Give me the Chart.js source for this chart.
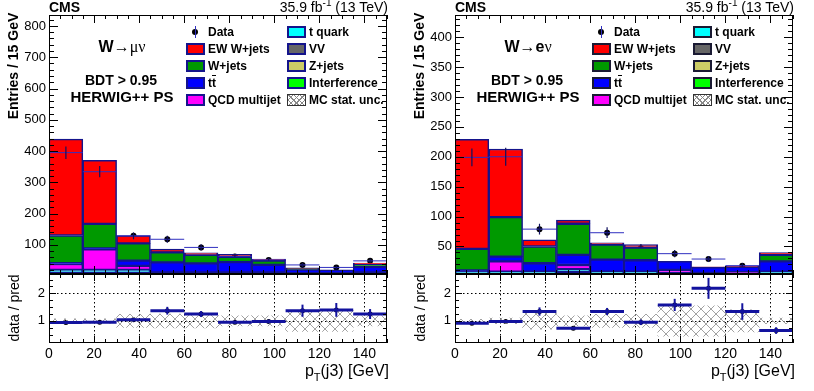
<!DOCTYPE html>
<html>
<head>
<meta charset="utf-8">
<script src="https://cdn.jsdelivr.net/npm/chart.js@4.4.0/dist/chart.umd.min.js"></script>
<style>
html, body { margin: 0; padding: 0; background: #fff; }
#fig { position: relative; width: 814px; height: 391px; overflow: hidden;
       font-family: 'Liberation Sans', Arial, Helvetica, sans-serif; color: #000; }
#fig canvas { position: absolute; }
.t   { position: absolute; white-space: nowrap; line-height: 1; }
.c   { transform: translateX(-50%); }
.r   { transform: translateX(-100%); }
.rot { transform: translate(-50%, -50%) rotate(-90deg); }
.sub { font-size: 11px; position: relative; top: 5px; }
.sup { font-size: 10px; position: relative; top: -6px; }
.sym { font-family: 'Liberation Serif', 'DejaVu Serif', serif; font-weight: normal; }
.box { position: absolute; width: 19px; height: 12px; box-sizing: border-box; border: 2px solid #14148c; }
.lg  { position: absolute; font-weight: bold; font-size: 12px; line-height: 1; white-space: nowrap; }
</style>
</head>
<body>
<div id="fig">
  <canvas id="muTop"   width="400" height="274" style="left:0;top:0"></canvas>
  <canvas id="muRatio" width="400" height="117" style="left:0;top:274px"></canvas>
  <canvas id="elTop"   width="400" height="274" style="left:406px;top:0"></canvas>
  <canvas id="elRatio" width="400" height="117" style="left:406px;top:274px"></canvas>
</div>
<script>
// ── Binning & axis ticks ─────────────────────────────────────
const binCenters   = [7.5, 22.5, 37.5, 52.5, 67.5, 82.5, 97.5, 112.5, 127.5, 142.5];
const binHalfWidth = 7.5;
const xTicks       = [0, 20, 40, 60, 80, 100, 120, 140];
const muYTicks     = [100, 200, 300, 400, 500, 600, 700, 800];
const elYTicks     = [50, 100, 150, 200, 250, 300, 350, 400];
const ratioTicks   = [1, 2];

// ── W→μν channel (entries / 15 GeV) ──────────────────────────
const muVV     = [6, 6, 6, 3, 3, 3, 3, 3, 3, 3];
const muZjets  = [6, 6, 6, 4, 4, 4, 4, 3, 3, 4];
const muTquark = [8, 8, 8, 5, 5, 5, 5, 4, 4, 5];
const muQCD    = [19, 66, 13, 0, 0, 0, 0, 0, 0, 0];
const muTT     = [3, 3, 17, 32, 29, 33, 24, 11, 10, 18];
const muWjets  = [88, 78, 55, 32, 27, 17, 14, 3, 0, 8];
const muEW     = [308, 203, 25, 11, 7, 8, 5, 3, 0, 4];
const muData   = [395, 334, 129, 118, 92, 63, 52, 36, 28, 49];
const muErr    = [20, 18, 11, 11, 10, 8, 7, 6, 5, 7];
const muRatio  = [0.94, 0.95, 1.04, 1.37, 1.25, 0.95, 0.98, 1.37, 1.40, 1.25];
const muRErr   = [0.04, 0.04, 0.06, 0.14, 0.11, 0.06, 0.07, 0.22, 0.25, 0.18];
const muMcUnc  = [0.08, 0.08, 0.24, 0.25, 0.25, 0.18, 0.18, 0.38, 0.38, 0.18];

// ── W→eν channel ─────────────────────────────────────────────
const elVV     = [2, 2, 2, 3, 2, 2, 2, 2, 2, 2];
const elZjets  = [3, 3, 3, 4, 3, 3, 2, 2, 2, 3];
const elTquark = [3, 3, 3, 5, 3, 3, 2, 2, 2, 3];
const elQCD    = [0, 17, 0, 7, 0, 0, 5, 0, 1, 0];
const elTT     = [2, 8, 14, 17, 20, 19, 14, 9, 9, 17];
const elWjets  = [36, 66, 28, 52, 25, 21, 0, 0, 0, 11];
const elEW     = [183, 114, 11, 6, 3, 5, 0, 1, 1, 4];
const elData   = [199, 200, 79, 64, 73, 47, 38, 29, 18, 23];
const elErr    = [15, 15, 9, 8, 9, 7, 6, 5, 4, 5];
const elRatio  = [0.92, 0.98, 1.34, 0.73, 1.34, 0.95, 1.58, 2.18, 1.34, 0.65];
const elRErr   = [0.04, 0.05, 0.15, 0.05, 0.13, 0.10, 0.22, 0.38, 0.30, 0.12];
const elMcUnc  = [0.06, 0.10, 0.30, 0.18, 0.24, 0.24, 0.55, 0.55, 0.40, 0.10];

// ── Colours ──────────────────────────────────────────────────
const OUTLINE = '#14148c';
const C_EW = '#ff0000', C_W = '#009900', C_TT = '#0000ff', C_QCD = '#ff00ff';
const C_TQ = '#00ffff', C_VV = '#666666', C_Z = '#cccc66', C_INT = '#00ff00';
const RATIO_BLUE = '#12129e';

Chart.defaults.font.family = "'Liberation Sans', Arial, Helvetica, sans-serif";
Chart.defaults.color = '#000';

function hatchPattern() {
  const c = document.createElement('canvas');
  c.width = c.height = 10;
  const g = c.getContext('2d');
  g.strokeStyle = '#8a8a8a'; g.lineWidth = 0.8;
  g.beginPath(); g.moveTo(0, 0); g.lineTo(10, 10); g.moveTo(10, 0); g.lineTo(0, 10); g.stroke();
  return g.createPattern(c, 'repeat');
}
const hatch = hatchPattern();

function line(ctx, x1, y1, x2, y2) {
  ctx.beginPath(); ctx.moveTo(x1, y1); ctx.lineTo(x2, y2); ctx.stroke();
}
const ticksAlong = (scale, step, every) => {
  const out = [];
  for (let n = Math.ceil(scale.min / step - 1e-9); n * step <= scale.max + 1e-9; n++)
    out.push([scale.getPixelForValue(n * step), n % every === 0]);
  return out;
};

// ROOT-like frame: inner ticks on all four sides, optional dotted grid
function rootFrame(o) {
  return {
    id: 'rootFrame',
    beforeDatasetsDraw(chart) {
      if (!o.grid) return;
      const {ctx, chartArea: a, scales: {x, y}} = chart;
      ctx.save();
      ctx.strokeStyle = '#000'; ctx.lineWidth = 1; ctx.setLineDash([1.5, 2.5]);
      xTicks.slice(1).forEach(v => { const p = Math.round(x.getPixelForValue(v)) + 0.5; line(ctx, p, a.top, p, a.bottom); });
      ratioTicks.forEach(v => { const p = Math.round(y.getPixelForValue(v)) + 0.5; line(ctx, a.left, p, a.right, p); });
      ctx.restore();
    },
    afterDraw(chart) {
      const {ctx, chartArea: a, scales: {x, y}} = chart;
      ctx.save();
      ctx.strokeStyle = '#000'; ctx.lineWidth = 1;
      ctx.strokeRect(a.left + 0.5, a.top + 0.5, a.width - 1, a.height - 1);
      ticksAlong(x, o.xStep, o.xEvery).forEach(([p, major]) => {
        const L = major ? o.xLen[0] : o.xLen[1];
        p = Math.round(p) + 0.5;
        line(ctx, p, a.bottom, p, a.bottom - L);
        line(ctx, p, a.top, p, a.top + L);
      });
      ticksAlong(y, o.yStep, o.yEvery).forEach(([p, major]) => {
        const L = major ? o.yLen[0] : o.yLen[1];
        p = Math.round(p) + 0.5;
        line(ctx, a.left, p, a.left + L, p);
        line(ctx, a.right, p, a.right - L, p);
      });
      ctx.restore();
    }
  };
}

// data error bars (x = bin width, y = stat. error)
function dataErrors(vals, errs, hColor, hWidth, vColor, vWidth, afterIndex) {
  return {
    id: 'dataErrors',
    afterDatasetDraw(chart, args) {
      if (args.index !== afterIndex) return;
      const {ctx, chartArea: a, scales: {x, y}} = chart;
      ctx.save();
      ctx.beginPath(); ctx.rect(a.left, a.top, a.width, a.height); ctx.clip();
      binCenters.forEach((c, i) => {
        const px = x.getPixelForValue(c), py = y.getPixelForValue(vals[i]);
        ctx.strokeStyle = hColor; ctx.lineWidth = hWidth;
        line(ctx, x.getPixelForValue(c - binHalfWidth), py, x.getPixelForValue(c + binHalfWidth), py);
        ctx.strokeStyle = vColor; ctx.lineWidth = vWidth;
        line(ctx, px, y.getPixelForValue(vals[i] - errs[i]), px, y.getPixelForValue(vals[i] + errs[i]));
      });
      ctx.restore();
    }
  };
}

// pin axis boxes so the plot frames land on exact pixels
const noPadY = w => s => { s.width = w; s.paddingTop = 0; s.paddingBottom = 0; };
const noPadX = h => s => { s.height = h; s.paddingLeft = 0; s.paddingRight = 0; };

const xScaleBase = {
  type: 'linear', min: 0, max: 150, offset: false,
  grid: { display: false, drawTicks: false, offset: false }, border: { display: false },
  afterBuildTicks: s => { s.ticks = xTicks.map(v => ({value: v})); }
};

function topChart(id, comps, data, err, yMin, yMax, yTicks, yStep) {
  const parts = [
    ['VV', comps[0], C_VV], ['Z+jets', comps[1], C_Z], ['t quark', comps[2], C_TQ],
    ['QCD multijet', comps[3], C_QCD], ['tt', comps[4], C_TT],
    ['W+jets', comps[5], C_W], ['EW W+jets', comps[6], C_EW]
  ];
  const bars = parts.map(([label, vals, col]) => ({
    type: 'bar', label, stack: 'mc',
    data: binCenters.map((x, i) => ({x, y: vals[i]})),
    backgroundColor: col, borderColor: OUTLINE, borderWidth: 1.5, borderSkipped: false,
    categoryPercentage: 1, barPercentage: 1
  }));
  const points = {
    type: 'scatter', label: 'Data',
    data: binCenters.map((x, i) => ({x, y: data[i]})),
    pointRadius: 3, pointBackgroundColor: '#000', pointBorderWidth: 0
  };
  new Chart(document.getElementById(id), {
    type: 'bar',
    data: { datasets: [...bars, points] },
    options: {
      responsive: false, animation: false, events: [],
      layout: { autoPadding: false, padding: { top: 15, right: 13, bottom: 0, left: 0 } },
      plugins: { legend: { display: false }, tooltip: { enabled: false } },
      scales: {
        x: { ...xScaleBase, stacked: true, ticks: { display: false }, afterFit: noPadX(0) },
        y: {
          type: 'linear', min: yMin, max: yMax, stacked: true,
          grid: { display: false, drawTicks: false }, border: { display: false },
          ticks: { font: { size: 13 }, color: '#000', padding: 3 },
          afterBuildTicks: s => { s.ticks = yTicks.map(v => ({value: v})); },
          afterFit: noPadY(49)
        }
      }
    },
    plugins: [
      rootFrame({ xStep: 5, xEvery: 4, yStep, yEvery: 5, xLen: [8, 4], yLen: [9, 5] }),
      dataErrors(data, err, '#3030c0', 1, '#101060', 1.2, bars.length - 1)
    ]
  });
}

function ratioChart(id, ratio, rErr, unc) {
  new Chart(document.getElementById(id), {
    type: 'bar',
    data: { datasets: [
      { type: 'bar', label: 'MC stat. unc.',
        data: binCenters.map((x, i) => ({x, y: [1 - unc[i], 1 + unc[i]]})),
        backgroundColor: hatch, borderWidth: 0, categoryPercentage: 1, barPercentage: 1 },
      { type: 'scatter', label: 'data / pred',
        data: binCenters.map((x, i) => ({x, y: ratio[i]})),
        pointRadius: 2.5, pointBackgroundColor: '#000', pointBorderWidth: 0 }
    ]},
    options: {
      responsive: false, animation: false, events: [],
      layout: { autoPadding: false, padding: { top: 0, right: 13, bottom: 0, left: 0 } },
      plugins: { legend: { display: false }, tooltip: { enabled: false } },
      scales: {
        x: { ...xScaleBase, ticks: { font: { size: 14 }, color: '#000', padding: 3, maxRotation: 0, autoSkip: false },
             afterFit: noPadX(48) },
        y: {
          type: 'linear', min: 0.2, max: 2.7,
          grid: { display: false, drawTicks: false }, border: { display: false },
          ticks: { font: { size: 13 }, color: '#000', padding: 4 },
          afterBuildTicks: s => { s.ticks = ratioTicks.map(v => ({value: v})); },
          afterFit: noPadY(49)
        }
      }
    },
    plugins: [
      rootFrame({ grid: true, xStep: 5, xEvery: 4, yStep: 0.25, yEvery: 4, xLen: [7, 4], yLen: [7, 4] }),
      dataErrors(ratio, rErr, RATIO_BLUE, 3, RATIO_BLUE, 2, 0)
    ]
  });
}

topChart('muTop', [muVV, muZjets, muTquark, muQCD, muTT, muWjets, muEW], muData, muErr, 7, 835, muYTicks, 20);
topChart('elTop', [elVV, elZjets, elTquark, elQCD, elTT, elWjets, elEW], elData, elErr, 4, 437, elYTicks, 10);
ratioChart('muRatio', muRatio, muRErr, muMcUnc);
ratioChart('elRatio', elRatio, elRErr, elMcUnc);

// ── Text: labels, annotations, legend (HTML overlay) ────────
const fig = document.getElementById('fig');
function addText(html, left, top, cls, style) {
  const d = document.createElement('div');
  d.className = 't ' + (cls || '');
  d.style.cssText = `left:${left}px;top:${top}px;` + (style || '');
  d.innerHTML = html;
  fig.appendChild(d);
  return d;
}

const legendCol1 = [['EW W+jets', C_EW], ['W+jets', C_W], ['t<span style="text-decoration:overline">t</span>', C_TT], ['QCD multijet', C_QCD]];
const legendCol2 = [['t quark', C_TQ], ['VV', C_VV], ['Z+jets', C_Z], ['Interference', C_INT]];
const legendRows = [32, 49, 66, 83, 100];

function panelText(dx, boxBorder, channel) {
  addText('CMS', 49 + dx, 0, '', 'font-weight:bold;font-size:14px;');
  addText('35.9 fb<span class="sup">-1</span> (13 TeV)', 388 + dx, 0, 'r', 'font-size:14px;');
  addText('Entries / 15 GeV', 13 + dx, 66, 'rot', 'font-weight:bold;font-size:14px;');
  addText('data / pred', 14 + dx, 308, 'rot', 'font-size:14px;');
  addText('p<span class="sub">T</span>(j3) [GeV]', 389 + dx, 363, 'r', 'font-size:16px;');

  addText(channel, 122 + dx, 39, 'c', 'font-weight:bold;font-size:16px;');
  addText('BDT &gt; 0.95', 121 + dx, 73, 'c', 'font-weight:bold;font-size:14px;');
  addText('HERWIG++ PS', 122 + dx, 88.5, 'c', 'font-weight:bold;font-size:15px;');

  // legend: data marker
  addText('', 192 + dx, legendRows[0] - 3, '', 'width:6px;height:6px;border-radius:50%;background:#000;');
  addText('', 194.5 + dx, legendRows[0] - 6, '', 'width:1px;height:12px;background:#3030c0;');
  const lg = (html, left, cy) => {
    const d = document.createElement('div');
    d.className = 'lg';
    d.style.cssText = `left:${left}px;top:${cy - 5.9}px;`;
    d.innerHTML = html;
    fig.appendChild(d);
  };
  const box = (left, cy, bg, border) => {
    const b = document.createElement('div');
    b.className = 'box';
    b.style.cssText = `left:${left}px;top:${cy - 6}px;background:${bg};border-color:${border};`;
    fig.appendChild(b);
  };
  lg('Data', 208 + dx, legendRows[0]);
  legendCol1.forEach(([txt, col], i) => { box(186 + dx, legendRows[i + 1], col, boxBorder); lg(txt, 208 + dx, legendRows[i + 1]); });
  legendCol2.forEach(([txt, col], i) => { box(287 + dx, legendRows[i], col, boxBorder); lg(txt, 309 + dx, legendRows[i]); });
  const hb = document.createElement('div');
  hb.className = 'box';
  hb.style.cssText = `left:${287 + dx}px;top:${legendRows[4] - 6}px;border:1px solid #333;` +
    'background:repeating-linear-gradient(45deg,transparent 0 3px,#888 3px 4px),repeating-linear-gradient(-45deg,#fff 0 3px,#888 3px 4px);';
  fig.appendChild(hb);
  lg('MC stat. unc.', 309 + dx, legendRows[4]);
}

panelText(0, OUTLINE, 'W<span class="sym">&rarr;&mu;&nu;</span>');
panelText(406, '#1a1a33', 'W<span class="sym">&rarr;</span>e<span class="sym">&nu;</span>');
</script>
</body>
</html>
